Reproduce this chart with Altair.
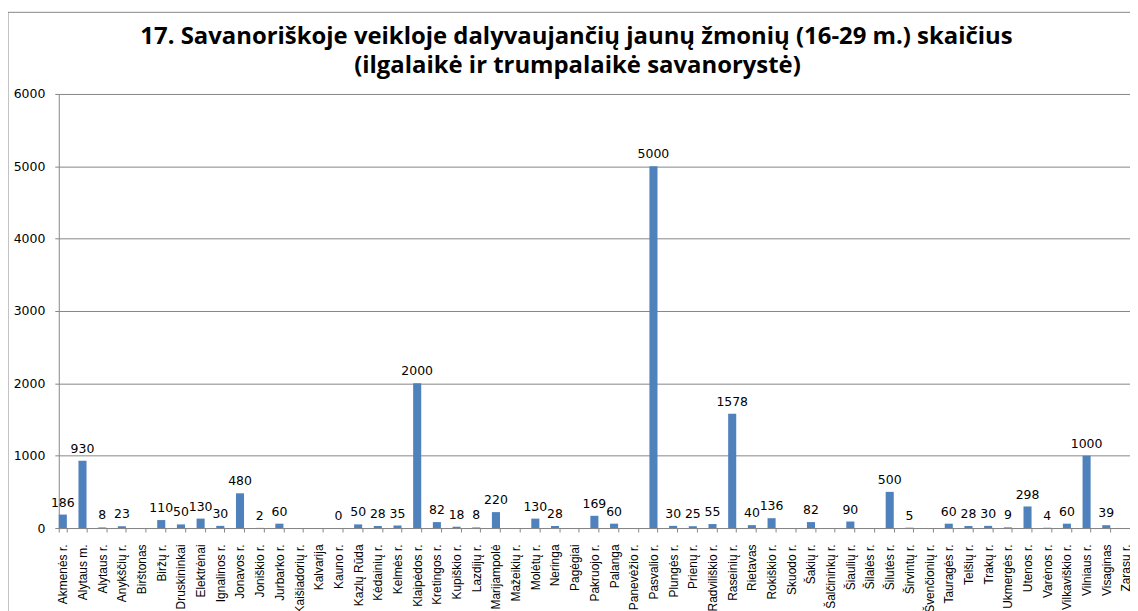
import altair as alt
import pandas as pd

categories = [
    "Akmenės r.", "Alytaus m.", "Alytaus r.", "Anykščių r.", "Birštonas",
    "Biržų r.", "Druskininkai", "Elektrėnai", "Ignalinos r.", "Jonavos r.",
    "Joniškio r.", "Jurbarko r.", "Kaišiadorių r.", "Kalvarija", "Kauno r.",
    "Kazlų Rūda", "Kėdainių r.", "Kelmės r.", "Klaipėdos r.", "Kretingos r.",
    "Kupiškio r.", "Lazdijų r.", "Marijampolė", "Mažeikių r.", "Molėtų r.",
    "Neringa", "Pagėgiai", "Pakruojo r.", "Palanga", "Panevėžio r.",
    "Pasvalio r.", "Plungės r.", "Prienų r.", "Radviliškio r.", "Raseinių r.",
    "Rietavas", "Rokiškio r.", "Skuodo r.", "Šakių r.", "Šalčininkų r.",
    "Šiaulių r.", "Šilalės r.", "Šilutės r.", "Širvintų r.", "Švenčionių r.",
    "Tauragės r.", "Telšių r.", "Trakų r.", "Ukmergės r.", "Utenos r.",
    "Varėnos r.", "Vilkaviškio r.", "Vilniaus r.", "Visaginas", "Zarasų r.",
]
values = [
    186, 930, 8, 23, None,
    110, 50, 130, 30, 480,
    2, 60, None, None, 0,
    50, 28, 35, 2000, 82,
    18, 8, 220, None, 130,
    28, None, 169, 60, None,
    5000, 30, 25, 55, 1578,
    40, 136, None, 82, None,
    90, None, 500, 5, None,
    60, 28, 30, 9, 298,
    4, 60, 1000, 39, None,
]
y_ticks = [0, 1000, 2000, 3000, 4000, 5000, 6000]
title_line1 = "17. Savanoriškoje veikloje dalyvaujančių jaunų žmonių (16-29 m.) skaičius"
title_line2 = "(ilgalaikė ir trumpalaikė savanorystė)"

df = pd.DataFrame({"savivaldybe": categories, "skaicius": values})

GRAY = "#868686"

x = alt.X(
    "savivaldybe:N",
    sort=categories,
    scale=alt.Scale(domain=categories, paddingInner=0.59, paddingOuter=0.0),
    axis=alt.Axis(
        title=None, labelAngle=-90, labelFont="Liberation Sans", labelFontSize=12,
        labelColor="#000000", tickBand="extent", tickSize=4, tickColor=GRAY,
        domainColor=GRAY, labelPadding=12, labelOverlap=False, labelLimit=0,
        grid=False,
    ),
)
y = alt.Y(
    "skaicius:Q",
    scale=alt.Scale(domain=[0, 6000], nice=False),
    axis=alt.Axis(
        title=None, values=y_ticks, format="d", labelFont="DejaVu Sans",
        labelFontSize=12.5, labelColor="#000000", tickSize=4, tickColor=GRAY,
        domainColor=GRAY, gridColor=GRAY, labelPadding=10,
    ),
)

bars = alt.Chart(df).mark_bar(color="#4F81BD").encode(x=x, y=y)
labels = alt.Chart(df).mark_text(
    font="DejaVu Sans", fontSize=12.5, baseline="alphabetic", dy=-8, color="#000000"
).encode(x=x, y=y, text=alt.Text("skaicius:Q", format="d"))

one = pd.DataFrame({"k": [0]})
frame_top = alt.Chart(one).mark_rule(color=GRAY, strokeWidth=1).encode(
    x=alt.value(-51), x2=alt.value(1100), y=alt.value(-82)
)
frame_left = alt.Chart(one).mark_rule(color=GRAY, strokeWidth=1).encode(
    x=alt.value(-51), y=alt.value(-82), y2=alt.value(540)
)
title1 = alt.Chart(one).mark_text(
    font="Open Sans", fontSize=24, fontWeight="bold", color="#000000",
    align="center", baseline="alphabetic",
).encode(x=alt.value(520), y=alt.value(-50), text=alt.value(title_line1))
title2 = alt.Chart(one).mark_text(
    font="Open Sans", fontSize=24, fontWeight="bold", color="#000000",
    align="center", baseline="alphabetic",
).encode(x=alt.value(521), y=alt.value(-21), text=alt.value(title_line2))

chart = (
    alt.layer(frame_top, frame_left, bars, labels, title1, title2)
    .properties(
        width=1076,
        height=436,
        padding={"left": 51, "top": 85, "right": 0, "bottom": 82},
        autosize=alt.AutoSizeParams(type="none"),
    )
    .configure_view(stroke=None)
)

chart.save("out.html", embed_options={"renderer": "svg", "actions": False})
